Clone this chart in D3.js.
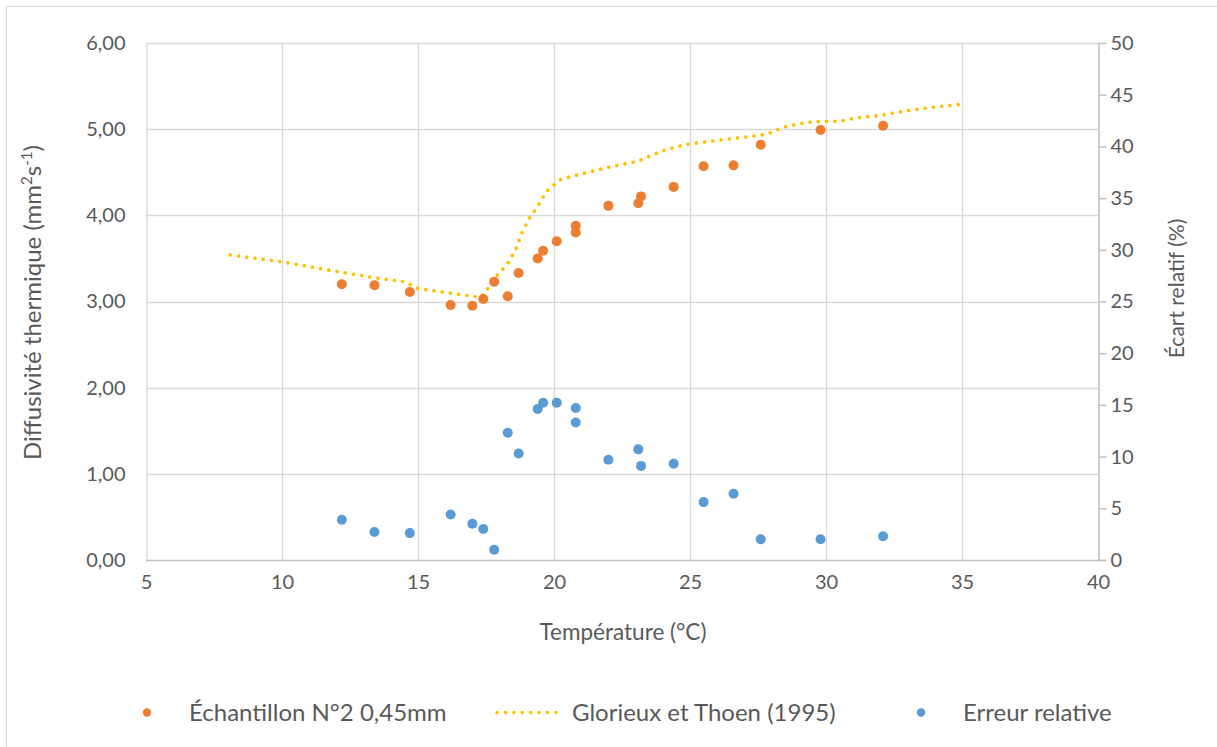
<!DOCTYPE html>
<html>
<head>
<meta charset="utf-8">
<script src="https://cdn.jsdelivr.net/npm/d3@7"></script>
<style>
  html, body { margin: 0; padding: 0; background: #fff; }
  svg { display: block; font-family: Lato, "Open Sans", sans-serif; }
</style>
</head>
<body>
<svg id="chart" width="1217" height="747"></svg>
<script>
// ---- Data ----
const temperatures = [12.2, 13.4, 14.7, 16.2, 17.0, 17.4, 17.8, 18.3, 18.7, 19.4, 19.6, 20.1, 20.8, 20.8, 22.0, 23.1, 23.2, 24.4, 25.5, 26.6, 27.6, 29.8, 32.1];
const diffusivity = [3.20, 3.19, 3.11, 2.96, 2.95, 3.03, 3.23, 3.06, 3.33, 3.50, 3.59, 3.70, 3.88, 3.80, 4.11, 4.14, 4.22, 4.33, 4.57, 4.58, 4.82, 4.99, 5.04];
const relativeError = [3.9, 2.7, 2.6, 4.4, 3.5, 3.0, 1.0, 12.3, 10.3, 14.6, 15.2, 15.2, 14.7, 13.3, 9.7, 10.7, 9.1, 9.3, 5.6, 6.4, 2.0, 2.0, 2.3];

const glorieuxTemps = [8.1, 10.0, 11.8, 13.5, 14.5, 15.0, 16.8, 17.3, 17.5, 17.9, 18.3, 18.6, 18.8, 19.1, 19.4, 19.7, 20.2, 20.5, 21.9, 23.1, 23.4, 24.0, 24.8, 26.0, 27.6, 27.9, 28.4, 29.3, 29.9, 30.5, 31.1, 32.0, 32.9, 33.8, 35.0];
const glorieuxValues = [3.54, 3.46, 3.36, 3.27, 3.23, 3.15, 3.07, 3.05, 3.12, 3.30, 3.44, 3.61, 3.78, 3.97, 4.10, 4.27, 4.41, 4.44, 4.55, 4.63, 4.67, 4.75, 4.82, 4.87, 4.93, 4.95, 5.02, 5.08, 5.09, 5.09, 5.13, 5.16, 5.21, 5.25, 5.29];

const xTicks = [5, 10, 15, 20, 25, 30, 35, 40];
const yLeftTicks = [0, 1, 2, 3, 4, 5, 6];
const yRightTicks = [0, 5, 10, 15, 20, 25, 30, 35, 40, 45, 50];

const seriesNames = ["Échantillon N°2 0,45mm", "Glorieux et Thoen (1995)", "Erreur relative"];
const xTitle = "Température (°C)";
const yRightTitle = "Écart relatif (%)";

// ---- Layout ----
const svg = d3.select("#chart");
const plot = { left: 146, right: 1098, top: 43, bottom: 560 };
const textColor = "#595959";
const gridColor = "#D9D9D9";
const axisColor = "#BFBFBF";
const orange = "#ED7D31", yellow = "#FFC000", blue = "#5B9BD5";

svg.append("rect").attr("x", 0).attr("y", 0).attr("width", 1217).attr("height", 747).attr("fill", "#fff");
// chart border (only top/left visible in frame)
svg.append("rect").attr("x", 6.5).attr("y", 6.5).attr("width", 1230).attr("height", 760)
  .attr("fill", "none").attr("stroke", "#D9D9D9").attr("stroke-width", 1);

const x = d3.scaleLinear().domain([5, 40]).range([plot.left, plot.right]);
const yL = d3.scaleLinear().domain([0, 6]).range([plot.bottom, plot.top]);
const yR = d3.scaleLinear().domain([0, 50]).range([plot.bottom, plot.top]);

// gridlines
const grid = svg.append("g");
grid.selectAll("line.h").data(yLeftTicks.slice(1)).join("line")
  .attr("x1", plot.left).attr("x2", plot.right)
  .attr("y1", d => Math.round(yL(d)) + 0.5).attr("y2", d => Math.round(yL(d)) + 0.5)
  .attr("stroke", gridColor).attr("stroke-width", 1.3);
grid.selectAll("line.v").data(xTicks.slice(1, -1)).join("line")
  .attr("y1", plot.top).attr("y2", plot.bottom)
  .attr("x1", d => Math.round(x(d)) + 0.5).attr("x2", d => Math.round(x(d)) + 0.5)
  .attr("stroke", gridColor).attr("stroke-width", 1.3);

// Left axis
const axL = svg.append("g").attr("transform", `translate(${plot.left + 0.5},0)`)
  .call(d3.axisLeft(yL).tickValues(yLeftTicks).tickSize(0).tickPadding(21)
    .tickFormat(d => d3.format(".2f")(d).replace(".", ",")));
axL.select(".domain").attr("stroke", gridColor).attr("stroke-width", 1.3);
axL.selectAll("text").attr("fill", textColor).attr("font-size", 20).attr("font-family", "Lato");

// Bottom axis
const axB = svg.append("g").attr("transform", `translate(0,${plot.bottom + 0.5})`)
  .call(d3.axisBottom(x).tickValues(xTicks).tickSize(0).tickPadding(14));
axB.select(".domain").attr("stroke", axisColor).attr("stroke-width", 1.5)
  .attr("d", `M${plot.left},0H${plot.right + 8}`);
axB.selectAll("text").attr("fill", textColor).attr("font-size", 20).attr("font-family", "Lato");

// Right axis
const axR = svg.append("g").attr("transform", `translate(${plot.right + 0.5},0)`)
  .call(d3.axisRight(yR).tickValues(yRightTicks).tickSizeInner(8).tickSizeOuter(0).tickPadding(4));
axR.select(".domain").attr("stroke", axisColor).attr("stroke-width", 1.5);
axR.selectAll(".tick line").attr("stroke", axisColor).attr("stroke-width", 1.5);
axR.selectAll("text").attr("fill", textColor).attr("font-size", 20).attr("font-family", "Lato");

// Axis titles
svg.append("text").attr("x", (plot.left + plot.right) / 2 + 1).attr("y", 640)
  .attr("text-anchor", "middle").attr("fill", textColor).attr("font-size", 22.5).text(xTitle);

const yTitle = svg.append("text")
  .attr("transform", `translate(41,${(plot.top + plot.bottom) / 2 + 1}) rotate(-90)`)
  .attr("text-anchor", "middle").attr("fill", textColor).attr("font-size", 24);
yTitle.append("tspan").text("Diffusivité thermique (mm");
yTitle.append("tspan").attr("baseline-shift", "super").attr("font-size", 15).text("2");
yTitle.append("tspan").text("s");
yTitle.append("tspan").attr("baseline-shift", "super").attr("font-size", 15).text("-1");
yTitle.append("tspan").text(")");

svg.append("text")
  .attr("transform", `translate(1184,${(plot.top + plot.bottom) / 2 - 13}) rotate(-90)`)
  .attr("text-anchor", "middle").attr("fill", textColor).attr("font-size", 21).text(yRightTitle);

// Glorieux line
const glData = glorieuxTemps.map((t, i) => [t, glorieuxValues[i]]);
svg.append("path").datum(glData)
  .attr("d", d3.line().x(d => x(d[0])).y(d => yL(d[1])))
  .attr("fill", "none").attr("stroke", yellow).attr("stroke-width", 3.6)
  .attr("stroke-linecap", "round").attr("stroke-dasharray", "0.1 8.2");

// Relative error points (right axis)
svg.append("g").selectAll("circle").data(temperatures.map((t, i) => [t, relativeError[i]])).join("circle")
  .attr("cx", d => x(d[0])).attr("cy", d => yR(d[1])).attr("r", 5).attr("fill", blue);

// Diffusivity points (left axis)
svg.append("g").selectAll("circle").data(temperatures.map((t, i) => [t, diffusivity[i]])).join("circle")
  .attr("cx", d => x(d[0])).attr("cy", d => yL(d[1])).attr("r", 5).attr("fill", orange);

// Legend
const ly = 712.5;
const legend = svg.append("g").attr("font-size", 24).attr("fill", textColor);
legend.append("circle").attr("cx", 147).attr("cy", ly).attr("r", 4.2).attr("fill", orange);
legend.append("text").attr("x", 189).attr("y", ly + 8).text(seriesNames[0]);
legend.append("line").attr("x1", 497).attr("x2", 564).attr("y1", ly).attr("y2", ly)
  .attr("stroke", yellow).attr("stroke-width", 3.6).attr("stroke-linecap", "round").attr("stroke-dasharray", "0.1 8.3");
legend.append("text").attr("x", 572).attr("y", ly + 8).text(seriesNames[1]);
legend.append("circle").attr("cx", 921).attr("cy", ly).attr("r", 4.2).attr("fill", blue);
legend.append("text").attr("x", 963).attr("y", ly + 8).text(seriesNames[2]);
</script>
</body>
</html>
